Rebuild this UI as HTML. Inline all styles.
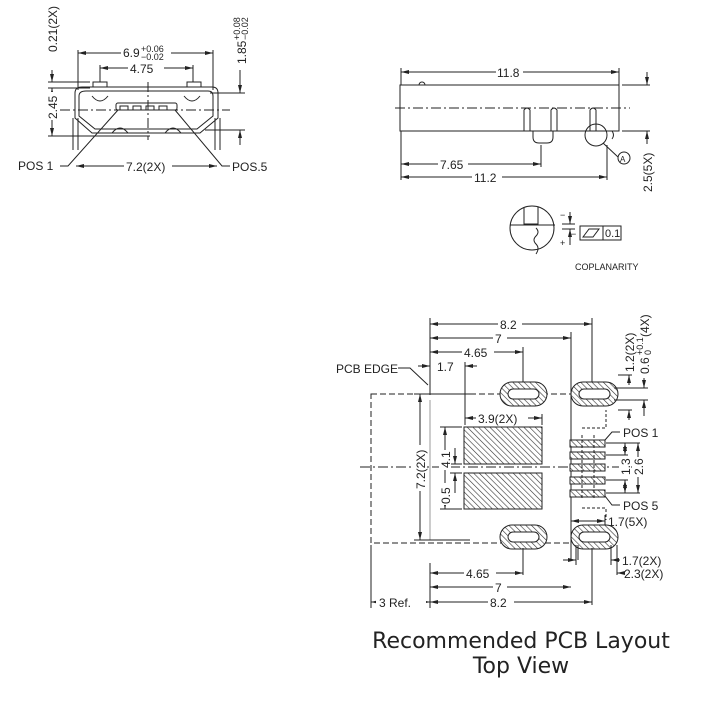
<!DOCTYPE html>
<html><head><style>
html,body{margin:0;padding:0;background:#fff;}
svg{display:block;}
text{font-family:"Liberation Sans",sans-serif;fill:#222;}
</style></head><body>
<svg width="703" height="709" viewBox="0 0 703 709" xmlns="http://www.w3.org/2000/svg">
<defs>
<pattern id="h" width="4" height="4" patternUnits="userSpaceOnUse" patternTransform="rotate(-45)">
<rect width="4" height="4" fill="#fff"/><line x1="0" y1="0" x2="0" y2="4" stroke="#333" stroke-width="1.2"/></pattern>
<marker id="a" markerWidth="8" markerHeight="6" refX="8" refY="3" orient="auto-start-reverse"><path d="M0,1 L8,3 L0,5z" fill="#222"/></marker>
</defs>
<g stroke="#222" stroke-width="1" fill="none">
<!-- front view -->
<line x1="78" y1="53" x2="213" y2="53" marker-start="url(#a)" marker-end="url(#a)"/>
<line x1="78" y1="50" x2="78" y2="90"/><line x1="213" y1="50" x2="213" y2="90"/>
<line x1="100" y1="68" x2="193" y2="68" marker-start="url(#a)" marker-end="url(#a)"/>
<line x1="100" y1="65" x2="100" y2="82"/><line x1="193" y1="65" x2="193" y2="82"/>
<rect x="93" y="82" width="14" height="5"/><rect x="187" y="82" width="14" height="5"/>
<path d="M82,87 H212 Q218,87 218,93 V118 L200,133 H92 L75,118 V93 Q75,87 82,87Z"/>
<path d="M86,91 H208 Q213,91 213,96 V116 L197,129 H95 L79,116 V96 Q79,91 86,91Z"/>
<rect x="116" y="103" width="61" height="7" rx="2"/>
<path d="M120,110 v-4 h8 v4 M133,110 v-4 h8 v4 M146,110 v-4 h8 v4 M159,110 v-4 h8 v4"/>
<path d="M92,96 q8,10 16,0 M184,96 q8,10 16,0 M112,133 q8,-10 16,0 M165,133 q8,-10 16,0"/>
<line x1="73" y1="118" x2="73" y2="150"/><line x1="78" y1="118" x2="78" y2="150"/>
<line x1="215" y1="118" x2="215" y2="150"/><line x1="220" y1="118" x2="220" y2="150"/>
<line x1="60" y1="110" x2="230" y2="110" stroke-dasharray="10,3,2,3"/>
<line x1="148" y1="82" x2="148" y2="140" stroke-dasharray="10,3,2,3"/>
<line x1="48" y1="82" x2="90" y2="82"/><line x1="48" y1="88" x2="90" y2="88"/>
<line x1="52" y1="70" x2="52" y2="82" marker-end="url(#a)"/>
<line x1="52" y1="88" x2="52" y2="136" marker-start="url(#a)" marker-end="url(#a)"/>
<line x1="48" y1="136" x2="150" y2="136"/>
<line x1="210" y1="93" x2="245" y2="93"/><line x1="205" y1="130" x2="245" y2="130"/>
<line x1="240" y1="70" x2="240" y2="93" marker-end="url(#a)"/>
<line x1="240" y1="145" x2="240" y2="130" marker-end="url(#a)"/>
<line x1="76" y1="166" x2="217" y2="166" marker-start="url(#a)" marker-end="url(#a)"/>
<path d="M60,166 H68 L118,110"/><path d="M230,166 H222 L175,110"/>
<!-- side view -->
<line x1="401" y1="72" x2="619" y2="72" marker-start="url(#a)" marker-end="url(#a)"/>
<line x1="401" y1="68" x2="401" y2="85"/><line x1="619" y1="68" x2="619" y2="85"/>
<rect x="400" y="85" width="219" height="46"/>
<path d="M419,85 a3,3 0 0 1 6,0"/>
<line x1="395" y1="108" x2="630" y2="108" stroke-dasharray="10,3,2,3"/>
<path d="M524,131 V110 q3,-4 6,0 V131 M551,131 V110 q3,-4 6,0 V131 M590,131 V110 q3,-4 6,0 V131"/>
<path d="M533,131 v6 q0,6 6,6 h8 q6,0 6,-6 v-6"/>
<path d="M612,131 q3,4 0,8"/>
<circle cx="596" cy="135" r="11"/>
<line x1="603" y1="143" x2="618" y2="157"/>
<circle cx="624" cy="158" r="6"/>
<line x1="401" y1="131" x2="401" y2="180"/>
<line x1="541" y1="145" x2="541" y2="167"/><line x1="607" y1="145" x2="607" y2="180"/>
<line x1="401" y1="164" x2="541" y2="164" marker-start="url(#a)" marker-end="url(#a)"/>
<line x1="401" y1="177" x2="607" y2="177" marker-start="url(#a)" marker-end="url(#a)"/>
<line x1="622" y1="85" x2="650" y2="85"/><line x1="622" y1="131" x2="650" y2="131"/>
<line x1="647" y1="72" x2="647" y2="85" marker-end="url(#a)"/>
<line x1="647" y1="144" x2="647" y2="131" marker-end="url(#a)"/>
<circle cx="532" cy="228" r="22"/>
<path d="M524,207 V224 h14 V207 M510,225 H555 M536,228 q4,4 0,8 q-4,4 0,8 q4,4 0,10"/>
<line x1="570" y1="212" x2="570" y2="224" marker-end="url(#a)"/>
<line x1="570" y1="245" x2="570" y2="229" marker-end="url(#a)"/>
<line x1="562" y1="224" x2="575" y2="224"/><line x1="562" y1="229" x2="575" y2="229"/>
<rect x="580" y="226" width="41" height="14"/><line x1="603" y1="226" x2="603" y2="240"/>
<path d="M583,237 L589,229 H599 L593,237Z"/>
<!-- PCB layout -->
<line x1="430" y1="318" x2="430" y2="395"/><line x1="430" y1="400" x2="430" y2="540" stroke="#999"/>
<line x1="430" y1="563" x2="430" y2="608"/>
<line x1="592" y1="318" x2="592" y2="388"/><line x1="571" y1="332" x2="571" y2="560"/>
<line x1="523" y1="347" x2="523" y2="384"/>
<line x1="430" y1="324" x2="592" y2="324" marker-start="url(#a)" marker-end="url(#a)"/>
<line x1="430" y1="338" x2="571" y2="338" marker-start="url(#a)" marker-end="url(#a)"/>
<line x1="430" y1="352" x2="523" y2="352" marker-start="url(#a)" marker-end="url(#a)"/>
<line x1="418" y1="366" x2="430" y2="366" marker-end="url(#a)"/>
<line x1="477" y1="366" x2="465" y2="366" marker-end="url(#a)"/>
<line x1="465" y1="362" x2="465" y2="425"/>
<path d="M398,368 H410 L428,385"/>
<rect x="371" y="394" width="200" height="149" stroke-dasharray="6,3"/>
<line x1="360" y1="467" x2="640" y2="467" stroke-dasharray="10,3,2,3"/>
<line x1="465" y1="418" x2="542" y2="418" marker-start="url(#a)" marker-end="url(#a)"/>
<line x1="542" y1="414" x2="542" y2="425"/>
<rect x="464" y="427" width="78" height="37" fill="url(#h)"/>
<rect x="464" y="473" width="78" height="36" fill="url(#h)"/>
<line x1="420" y1="394" x2="420" y2="540" marker-start="url(#a)" marker-end="url(#a)"/>
<line x1="414" y1="394" x2="470" y2="394"/><line x1="414" y1="540" x2="470" y2="540"/>
<line x1="445" y1="427" x2="445" y2="509" marker-start="url(#a)" marker-end="url(#a)"/>
<line x1="440" y1="427" x2="462" y2="427"/><line x1="440" y1="509" x2="462" y2="509"/>
<line x1="455" y1="448" x2="455" y2="464" marker-end="url(#a)"/>
<line x1="455" y1="493" x2="455" y2="473" marker-end="url(#a)"/>
<line x1="450" y1="464" x2="462" y2="464"/><line x1="450" y1="473" x2="462" y2="473"/>
<g fill="url(#h)">
<rect x="500" y="382" width="47" height="24" rx="12"/><rect x="571" y="382" width="47" height="24" rx="12"/>
<rect x="500" y="525" width="47" height="24" rx="12"/><rect x="571" y="525" width="47" height="24" rx="12"/>
</g>
<g fill="#fff">
<rect x="508" y="389" width="31" height="10" rx="5"/><rect x="579" y="389" width="31" height="10" rx="5"/>
<rect x="508" y="532" width="31" height="10" rx="5"/><rect x="579" y="532" width="31" height="10" rx="5"/>
</g>
<g fill="url(#h)">
<rect x="570" y="440" width="35" height="7"/><rect x="570" y="452" width="35" height="7"/>
<rect x="570" y="464" width="35" height="7"/><rect x="570" y="477" width="35" height="7"/>
<rect x="570" y="490" width="35" height="7"/>
</g>
<g stroke-dasharray="3,2">
<path d="M582,435 V500 M594,435 V500"/>
<path d="M582,428 H606 V410"/><path d="M582,508 H606 V520"/>
</g>
<line x1="606" y1="443" x2="640" y2="443"/><line x1="606" y1="455" x2="628" y2="455"/>
<line x1="606" y1="480" x2="628" y2="480"/><line x1="606" y1="493" x2="640" y2="493"/>
<line x1="625" y1="443" x2="625" y2="455" marker-start="url(#a)" marker-end="url(#a)"/>
<line x1="625" y1="480" x2="625" y2="493" marker-start="url(#a)" marker-end="url(#a)"/>
<line x1="638" y1="443" x2="638" y2="493" marker-start="url(#a)" marker-end="url(#a)"/>
<path d="M605,440 L612,432 H620"/><path d="M605,496 L612,505 H620"/>
<line x1="571" y1="521" x2="605" y2="521" marker-start="url(#a)" marker-end="url(#a)"/>
<line x1="605" y1="515" x2="605" y2="525"/>
<line x1="614" y1="388" x2="648" y2="388"/><line x1="614" y1="400" x2="648" y2="400"/>
<line x1="618" y1="375" x2="632" y2="375"/><line x1="618" y1="410" x2="632" y2="410"/>
<line x1="629" y1="385" x2="629" y2="375" marker-end="url(#a)"/>
<line x1="629" y1="420" x2="629" y2="410" marker-end="url(#a)"/>
<line x1="644" y1="378" x2="644" y2="388" marker-end="url(#a)"/>
<line x1="644" y1="416" x2="644" y2="400" marker-end="url(#a)"/>
<line x1="576" y1="545" x2="576" y2="565"/><line x1="611" y1="545" x2="611" y2="565"/>
<line x1="617" y1="545" x2="617" y2="575"/><line x1="578" y1="545" x2="578" y2="560"/>
<line x1="620" y1="560" x2="611" y2="560" marker-end="url(#a)"/>
<line x1="622" y1="573" x2="617" y2="573" marker-end="url(#a)"/>
<line x1="563" y1="560" x2="576" y2="560" marker-end="url(#a)"/>
<line x1="523" y1="548" x2="523" y2="575"/><line x1="592" y1="548" x2="592" y2="605"/>
<line x1="371" y1="545" x2="371" y2="608"/>
<line x1="430" y1="573" x2="523" y2="573" marker-start="url(#a)" marker-end="url(#a)"/>
<line x1="430" y1="587" x2="571" y2="587" marker-start="url(#a)" marker-end="url(#a)"/>
<line x1="430" y1="602" x2="592" y2="602" marker-start="url(#a)" marker-end="url(#a)"/>
<line x1="371" y1="602" x2="430" y2="602" marker-start="url(#a)" marker-end="url(#a)"/>
</g>
<g font-size="12">
<rect x="121" y="45" width="50" height="14" fill="#fff"/>
<text x="123" y="57">6.9</text><text x="141" y="52" font-size="9">+0.06</text><text x="141" y="60" font-size="9">−0.02</text>
<rect x="128" y="62" width="36" height="12" fill="#fff"/><text x="130" y="73">4.75</text>
<text x="18" y="170">POS 1</text>
<rect x="124" y="160" width="48" height="12" fill="#fff"/><text x="126" y="171">7.2(2X)</text>
<text x="232" y="171">POS.5</text>
<text transform="translate(57,52) rotate(-90)">0.21(2X)</text>
<rect x="46" y="92" width="12" height="28" fill="#fff"/>
<text transform="translate(57,119) rotate(-90)">2.45</text>
<text transform="translate(246,64) rotate(-90)">1.85</text>
<text transform="translate(240,40) rotate(-90)" font-size="9">+0.08</text>
<text transform="translate(248,40) rotate(-90)" font-size="9">−0.02</text>
<rect x="496" y="66" width="27" height="12" fill="#fff"/><text x="497" y="77">11.8</text>
<rect x="438" y="158" width="30" height="12" fill="#fff"/><text x="440" y="169">7.65</text>
<rect x="472" y="171" width="30" height="12" fill="#fff"/><text x="474" y="182">11.2</text>
<text x="620" y="162" font-size="8">A</text>
<text transform="translate(652,192) rotate(-90)">2.5(5X)</text>
<text x="571" y="237" font-size="9">−</text><text x="560" y="218" font-size="9">−</text><text x="560" y="246" font-size="9">+</text>
<text x="605" y="237" font-size="11">0.1</text>
<text x="575" y="270" font-size="9">COPLANARITY</text>
<rect x="498" y="318" width="24" height="12" fill="#fff"/><text x="500" y="329">8.2</text>
<rect x="493" y="332" width="14" height="12" fill="#fff"/><text x="495" y="343">7</text>
<rect x="462" y="346" width="32" height="12" fill="#fff"/><text x="464" y="357">4.65</text>
<text x="437" y="371">1.7</text>
<text x="336" y="373">PCB EDGE</text>
<rect x="476" y="412" width="52" height="12" fill="#fff"/><text x="478" y="423">3.9(2X)</text>
<rect x="414" y="445" width="12" height="46" fill="#fff"/>
<text transform="translate(425,489) rotate(-90)">7.2(2X)</text>
<rect x="439" y="450" width="12" height="20" fill="#fff"/>
<text transform="translate(450,468) rotate(-90)">4.1</text>
<rect x="439" y="483" width="12" height="22" fill="#fff"/>
<text transform="translate(450,504) rotate(-90)">0.5</text>
<text x="623" y="437">POS 1</text><text x="623" y="510">POS 5</text>
<rect x="619" y="457" width="12" height="20" fill="#fff"/><text transform="translate(630,475) rotate(-90)">1.3</text>
<rect x="632" y="457" width="12" height="20" fill="#fff"/><text transform="translate(643,475) rotate(-90)">2.6</text>
<text x="608" y="526">1.7(5X)</text>
<text transform="translate(634,372) rotate(-90)">1.2(2X)</text>
<text transform="translate(649,374) rotate(-90)">0.6</text>
<text transform="translate(643,355) rotate(-90)" font-size="9">+0.1</text>
<text transform="translate(651,355) rotate(-90)" font-size="9">0</text>
<text transform="translate(649,337) rotate(-90)">(4X)</text>
<text x="622" y="565">1.7(2X)</text><text x="624" y="578">2.3(2X)</text>
<rect x="464" y="567" width="32" height="12" fill="#fff"/><text x="466" y="578">4.65</text>
<rect x="493" y="581" width="14" height="12" fill="#fff"/><text x="495" y="592">7</text>
<rect x="488" y="596" width="26" height="12" fill="#fff"/><text x="490" y="607">8.2</text>
<rect x="376" y="596" width="50" height="12" fill="#fff"/><text x="379" y="607">3 Ref.</text>
</g>
<text x="521" y="648" font-size="22" text-anchor="middle" style="font-family:'DejaVu Sans',sans-serif">Recommended PCB Layout</text>
<text x="521" y="673" font-size="22" text-anchor="middle" style="font-family:'DejaVu Sans',sans-serif">Top View</text>
</svg>
</body></html>
